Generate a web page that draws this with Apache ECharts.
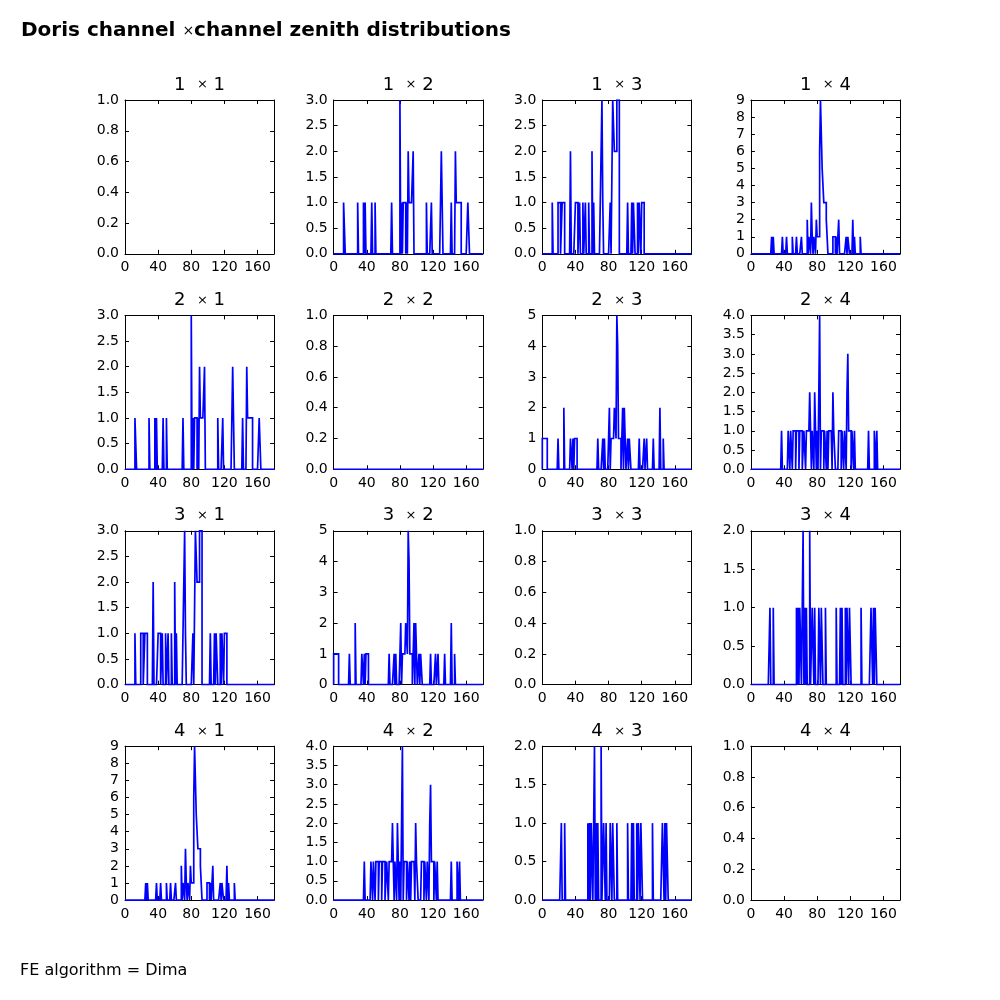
<!DOCTYPE html>
<html><head><meta charset="utf-8">
<script src="https://cdn.jsdelivr.net/npm/echarts@6/dist/echarts.min.js"></script>
<style>html,body{margin:0;padding:0;background:#fff}#c{width:1000px;height:1000px}</style>
</head><body><div id="c"></div>
<script>
// ---- data: zenith histograms, [bin start (deg, 1-deg bins), count] ----
const channels = ['1', '2', '3', '4'];
const xTickLabels = [0, 40, 80, 120, 160];
const zen_1_2 = [[12,1],[13,1],[29,1],[36,1],[38,1],[46,1],[50,1],[70,1],[80,3],[82,1],[84,1],[85,1],[86,1],[88,1],[90,2],[91,1],[92,1],[93,1],[94,1],[95,1],[96,2],[112,1],[118,1],[130,2],[131,1],[142,1],[147,2],[148,1],[149,1],[150,1],[151,1],[152,1],[153,1],[162,1],[163,1]];
const zen_1_3 = [[12,1],[19,1],[20,1],[21,1],[24,1],[25,1],[26,1],[34,2],[40,1],[41,1],[42,1],[45,1],[49,1],[52,1],[56,1],[60,2],[62,1],[70,1],[71,1],[72,3],[73,1],[82,1],[85,3],[86,3],[87,2],[88,2],[89,2],[90,3],[91,3],[92,3],[103,1],[108,1],[110,1],[111,1],[115,1],[117,1],[118,1],[120,1],[121,1],[122,1]];
const zen_1_4 = [[25,1],[27,1],[38,1],[43,1],[50,1],[55,1],[61,1],[68,2],[70,1],[71,1],[73,3],[74,1],[76,1],[77,1],[79,2],[80,1],[81,1],[82,1],[83,6],[84,9],[85,7],[86,5],[87,5],[88,3],[89,3],[90,3],[91,2],[92,2],[99,1],[100,1],[101,1],[103,1],[106,2],[115,1],[117,1],[118,1],[123,2],[125,1],[132,1]];
const zen_2_2 = [];
const zen_2_3 = [[0,1],[1,1],[2,1],[3,1],[4,1],[5,1],[19,1],[26,2],[34,1],[35,1],[37,1],[39,1],[40,1],[41,1],[67,1],[73,1],[75,1],[81,2],[83,1],[84,1],[85,1],[86,1],[87,2],[88,2],[89,1],[90,5],[91,4],[92,1],[93,1],[94,1],[97,2],[99,2],[100,2],[103,1],[105,1],[106,1],[117,1],[123,1],[126,1],[134,1],[142,2],[146,1]];
const zen_2_4 = [[37,1],[45,1],[46,1],[48,1],[49,1],[51,1],[52,1],[53,1],[55,1],[56,1],[57,1],[59,1],[60,1],[61,1],[64,1],[65,1],[67,1],[68,1],[69,1],[70,1],[71,2],[72,1],[74,1],[75,1],[77,2],[78,1],[80,1],[83,4],[85,1],[86,1],[87,1],[89,1],[90,1],[92,1],[94,1],[95,1],[96,1],[97,1],[99,2],[100,1],[101,1],[106,1],[107,1],[108,1],[110,1],[111,1],[113,1],[114,1],[116,2],[117,3],[118,1],[119,1],[120,1],[122,1],[123,1],[125,1],[142,1],[149,1],[150,1],[152,1]];
const zen_3_4 = [[23,1],[27,1],[55,1],[57,1],[59,1],[60,1],[63,2],[65,1],[67,1],[71,2],[74,1],[75,1],[77,1],[82,1],[83,1],[85,1],[86,1],[90,1],[103,1],[108,1],[110,1],[114,1],[116,1],[117,1],[119,1],[120,1],[133,1],[145,1],[146,1],[148,1],[150,1],[151,1]];
// histogram for each panel (row channel x column channel); null = no histogram drawn
const panelHists = [
  [null,    zen_1_2, zen_1_3, zen_1_4],
  [zen_1_2, zen_2_2, zen_2_3, zen_2_4],
  [zen_1_3, zen_2_3, null,    zen_3_4],
  [zen_1_4, zen_2_4, zen_3_4, null]
];
const yMax  = [[1,3,3,9],[3,1,5,4],[3,5,1,2],[9,4,2,1]];
const yStep = [[0.2,0.5,0.5,1],[0.5,0.2,1,0.5],[0.5,1,0.2,0.5],[1,0.5,0.5,0.2]];

// ---- layout ----
const colLeft = [125, 333.65, 542.3, 750.9];
const rowTop = [100, 315.4, 530.8, 746.2];
const W = 149.1, H = 153.85;
const FONT = 'DejaVu Sans';

// step outline of a 1-degree-bin histogram over 0..180
function stepPoints(bins) {
  const counts = new Array(180).fill(0);
  bins.forEach(([b, c]) => { counts[b] = c; });
  const pts = [[0, 0]];
  counts.forEach((c, i) => { pts.push([i, c]); pts.push([i + 1, c]); });
  pts.push([180, 0]);
  return pts;
}

const grid = [], xAxis = [], yAxis = [], series = [], graphic = [];
const frameLine = { show: true, onZero: false, lineStyle: { color: '#000', width: 1 } };
const tick = { show: true, inside: true, length: 4, lineStyle: { color: '#000', width: 1 } };
for (let r = 0; r < 4; r++) {
  for (let c = 0; c < 4; c++) {
    const g = grid.length;
    grid.push({ left: colLeft[c], top: rowTop[r], width: W, height: H });
    const xb = { gridIndex: g, type: 'value', min: 0, max: 180, interval: 40,
      axisLine: frameLine, axisTick: tick, splitLine: { show: false } };
    xAxis.push(Object.assign({}, xb, { position: 'bottom',
      axisLabel: { show: true, showMaxLabel: false, fontFamily: FONT, fontSize: 14, color: '#000', margin: 7,
        formatter: v => (xTickLabels.indexOf(v) >= 0 ? String(v) : '') } }));
    xAxis.push(Object.assign({}, xb, { position: 'top', axisLabel: { show: false } }));
    const st = yStep[r][c];
    const yb = { gridIndex: g, type: 'value', min: 0, max: yMax[r][c], interval: st,
      axisLine: frameLine, axisTick: tick, splitLine: { show: false } };
    yAxis.push(Object.assign({}, yb, { position: 'left',
      axisLabel: { show: true, fontFamily: FONT, fontSize: 14, color: '#000', margin: 6,
        formatter: v => (st < 1 ? v.toFixed(1) : String(Math.round(v))) } }));
    yAxis.push(Object.assign({}, yb, { position: 'right', axisLabel: { show: false } }));
    const h = panelHists[r][c];
    if (h) {
      series.push({ type: 'line', xAxisIndex: 2 * g, yAxisIndex: 2 * g, data: stepPoints(h),
        showSymbol: false, symbol: 'none', silent: true, z: 5, sampling: null,
        lineStyle: { color: '#0000ff', width: 1.7, join: 'miter' } });
    }
    graphic.push({ type: 'text', x: colLeft[c] + W / 2, y: rowTop[r] - 15, silent: true,
      style: { text: '{n|' + channels[r] + '}  {t|×} {n|' + channels[c] + '}', textAlign: 'center', textVerticalAlign: 'middle',
        fontFamily: FONT, fontSize: 18,
        rich: { n: { fontFamily: FONT, fontSize: 18, fill: '#000' }, t: { fontFamily: FONT, fontSize: 13, fill: '#000' } } } });
  }
}
graphic.push({ type: 'text', x: 21, y: 31, silent: true,
  style: { text: '{b|Doris channel }{t|×}{b|channel zenith distributions}', textVerticalAlign: 'middle',
    rich: { b: { fontFamily: FONT, fontSize: 20, fontWeight: 'bold', fill: '#000' }, t: { fontFamily: FONT, fontSize: 14, fill: '#000' } } } });
graphic.push({ type: 'text', x: 20, y: 971, silent: true,
  style: { text: 'FE algorithm = Dima', textVerticalAlign: 'middle', fontFamily: FONT, fontSize: 16, fill: '#000' } });

const chart = echarts.init(document.getElementById('c'), null, { renderer: 'canvas' });
chart.setOption({ animation: false, backgroundColor: '#fff', grid, xAxis, yAxis, series, graphic });
</script></body></html>
